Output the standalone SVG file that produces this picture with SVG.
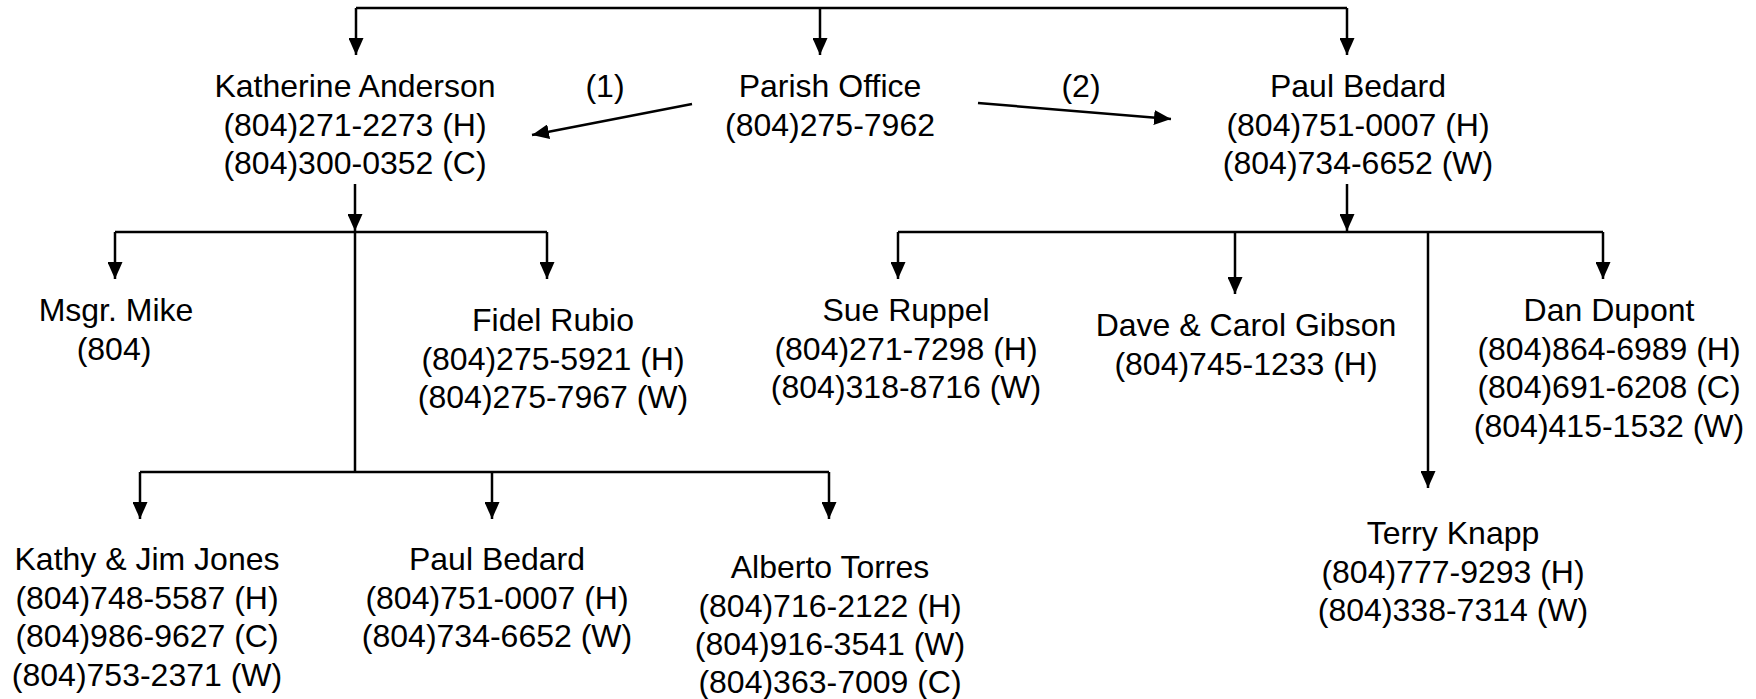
<svg xmlns="http://www.w3.org/2000/svg" width="1756" height="699" viewBox="0 0 1756 699">
<style>
text{font-family:"Liberation Sans",Arial,sans-serif;font-size:32px;fill:#000;text-anchor:middle}
.c line{stroke:#000;stroke-width:2.5;fill:none}
</style>
<defs>
<marker id="ah" markerUnits="userSpaceOnUse" markerWidth="17" markerHeight="15" refX="17" refY="7.5" orient="auto"><path d="M0,0 L17,7.5 L0,15 z" fill="#000"/></marker>
</defs>
<rect width="1756" height="699" fill="#fff"/>
<g class="c" id="connectors">
<line x1="356" y1="8" x2="1347" y2="8"/>
<line x1="356" y1="8" x2="356" y2="55" marker-end="url(#ah)"/>
<line x1="820" y1="8" x2="820" y2="55" marker-end="url(#ah)"/>
<line x1="1347" y1="8" x2="1347" y2="55" marker-end="url(#ah)"/>
<line x1="692" y1="104" x2="532" y2="135" marker-end="url(#ah)"/>
<line x1="978" y1="103" x2="1171" y2="119" marker-end="url(#ah)"/>
<line x1="355" y1="184" x2="355" y2="231" marker-end="url(#ah)"/>
<line x1="115" y1="232" x2="547" y2="232"/>
<line x1="115" y1="232" x2="115" y2="279" marker-end="url(#ah)"/>
<line x1="547" y1="232" x2="547" y2="279" marker-end="url(#ah)"/>
<line x1="355" y1="232" x2="355" y2="472"/>
<line x1="140" y1="472" x2="829" y2="472"/>
<line x1="140" y1="472" x2="140" y2="519" marker-end="url(#ah)"/>
<line x1="492" y1="472" x2="492" y2="519" marker-end="url(#ah)"/>
<line x1="829" y1="472" x2="829" y2="519" marker-end="url(#ah)"/>
<line x1="1347" y1="184" x2="1347" y2="231" marker-end="url(#ah)"/>
<line x1="898" y1="232" x2="1603" y2="232"/>
<line x1="898" y1="232" x2="898" y2="279" marker-end="url(#ah)"/>
<line x1="1235" y1="232" x2="1235" y2="294" marker-end="url(#ah)"/>
<line x1="1428" y1="232" x2="1428" y2="488" marker-end="url(#ah)"/>
<line x1="1603" y1="232" x2="1603" y2="279" marker-end="url(#ah)"/>
</g>
<g id="label1"><text x="605" y="97">(1)</text></g>
<g id="label2"><text x="1081" y="97">(2)</text></g>
<g id="parish"><text x="830" y="97">Parish Office</text><text x="830" y="135.5">(804)275-7962</text></g>
<g id="katherine"><text x="355" y="97">Katherine Anderson</text><text x="355" y="135.5">(804)271-2273 (H)</text><text x="355" y="174">(804)300-0352 (C)</text></g>
<g id="paul-top"><text x="1358" y="97">Paul Bedard</text><text x="1358" y="135.5">(804)751-0007 (H)</text><text x="1358" y="174">(804)734-6652 (W)</text></g>
<g id="mike"><text x="116" y="321">Msgr. Mike</text><text x="114" y="359.5">(804)</text></g>
<g id="fidel"><text x="553" y="331">Fidel Rubio</text><text x="553" y="369.5">(804)275-5921 (H)</text><text x="553" y="408">(804)275-7967 (W)</text></g>
<g id="sue"><text x="906" y="321">Sue Ruppel</text><text x="906" y="359.5">(804)271-7298 (H)</text><text x="906" y="398">(804)318-8716 (W)</text></g>
<g id="gibson"><text x="1246" y="336">Dave &amp; Carol Gibson</text><text x="1246" y="374.5">(804)745-1233 (H)</text></g>
<g id="dan"><text x="1609" y="321">Dan Dupont</text><text x="1609" y="359.5">(804)864-6989 (H)</text><text x="1609" y="398">(804)691-6208 (C)</text><text x="1609" y="436.5">(804)415-1532 (W)</text></g>
<g id="terry"><text x="1453" y="544">Terry Knapp</text><text x="1453" y="582.5">(804)777-9293 (H)</text><text x="1453" y="621">(804)338-7314 (W)</text></g>
<g id="kathy"><text x="147" y="570">Kathy &amp; Jim Jones</text><text x="147" y="608.5">(804)748-5587 (H)</text><text x="147" y="647">(804)986-9627 (C)</text><text x="147" y="685.5">(804)753-2371 (W)</text></g>
<g id="paul-bottom"><text x="497" y="570">Paul Bedard</text><text x="497" y="608.5">(804)751-0007 (H)</text><text x="497" y="647">(804)734-6652 (W)</text></g>
<g id="alberto"><text x="830" y="578">Alberto Torres</text><text x="830" y="616.5">(804)716-2122 (H)</text><text x="830" y="655">(804)916-3541 (W)</text><text x="830" y="693">(804)363-7009 (C)</text></g>
</svg>
